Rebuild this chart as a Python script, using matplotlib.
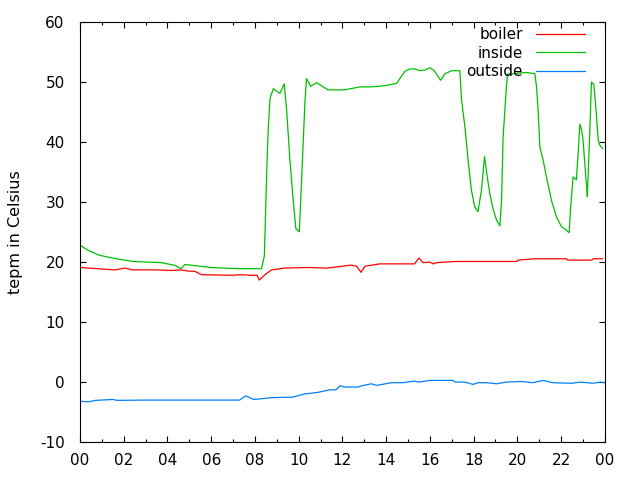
import matplotlib
matplotlib.use("Agg")
import matplotlib.pyplot as plt
from matplotlib.ticker import FixedLocator, MultipleLocator

# ---- data (hours of day, temperature in Celsius) ----
boiler_h = [0.0, 0.4, 1.6, 2.06, 2.4, 3.43, 4.2, 4.6, 4.95, 5.26, 5.56, 6.93, 7.4, 7.8,
            8.1, 8.2, 8.46, 8.76, 9.37, 10.4, 11.3, 11.96, 12.4, 12.65, 12.85, 13.03,
            13.7, 15.3, 15.5, 15.7, 16.0, 16.15, 16.3, 17.14, 19.96, 20.04, 20.8, 22.25,
            22.3, 23.4, 23.47, 23.9]
boiler_v = [19.1, 19.0, 18.7, 19.0, 18.7, 18.7, 18.6, 18.7, 18.5, 18.45, 17.9, 17.8, 17.9, 17.8,
            17.8, 17.0, 17.9, 18.7, 19.0, 19.1, 19.0, 19.3, 19.5, 19.3, 18.3, 19.3,
            19.7, 19.7, 20.67, 19.9, 20.0, 19.7, 19.9, 20.1, 20.1, 20.33, 20.55, 20.55,
            20.33, 20.33, 20.55, 20.55]

inside_h = [0.0, 0.38, 0.84, 1.3, 1.9, 2.44, 3.73, 4.34, 4.62, 4.8, 5.26, 6.0, 6.6, 7.24,
            8.3, 8.43, 8.46, 8.55, 8.62, 8.69, 8.84, 9.14, 9.34, 9.45, 9.6, 9.75, 9.87,
            10.03, 10.14, 10.29, 10.36, 10.55, 10.82, 11.35, 12.1, 12.8, 13.26, 13.7,
            14.1, 14.48, 14.63, 14.86, 15.1, 15.3, 15.54, 15.77, 16.0, 16.2, 16.49,
            16.69, 17.0, 17.37, 17.45, 17.6, 17.75, 17.9, 18.05, 18.2, 18.36, 18.5,
            18.58, 18.74, 18.9, 19.05, 19.2, 19.28, 19.35, 19.5, 19.55, 20.1, 20.4,
            20.8, 20.88, 20.95, 21.03, 21.18, 21.33, 21.56, 21.79, 22.02, 22.25, 22.37,
            22.43, 22.55, 22.7, 22.78, 22.86, 22.94, 23.0, 23.13, 23.18, 23.2, 23.3,
            23.39, 23.5, 23.6, 23.7, 23.77, 23.9]
inside_v = [22.8, 21.95, 21.2, 20.8, 20.4, 20.1, 19.9, 19.45, 18.9, 19.6, 19.4, 19.1, 19.0, 18.9,
            18.9, 21.0, 24.8, 36.4, 43.1, 47.3, 48.9, 48.1, 49.7, 45.3, 37.0, 30.3, 25.6,
            25.05, 34.2, 47.0, 50.6, 49.3, 49.9, 48.7, 48.7, 49.2, 49.2, 49.3,
            49.5, 49.8, 50.6, 51.8, 52.2, 52.2, 51.9, 52.0, 52.4, 51.9, 50.3,
            51.4, 51.9, 51.9, 47.0, 42.6, 37.0, 32.0, 29.2, 28.4, 32.0, 37.6,
            35.3, 31.4, 28.7, 27.0, 26.05, 30.3, 40.9, 49.2, 51.3, 51.5, 51.6,
            51.4, 49.2, 45.3, 39.2, 37.0, 34.2, 30.3, 27.55, 25.9, 25.3, 24.9,
            28.7, 34.2, 33.7, 38.1, 43.0, 42.0, 40.6, 34.2, 32.2, 30.9, 40.3,
            50.0, 49.6, 45.3, 40.3, 39.5, 38.9]

outside_h = [0.0, 0.4, 0.7, 1.5, 1.7, 3.0, 5.0, 7.3, 7.57, 7.95, 8.77, 9.75, 10.24, 10.9,
             11.4, 11.7, 11.89, 12.1, 12.7, 12.95, 13.33, 13.56, 14.25, 14.76, 15.3, 15.5,
             16.0, 17.07, 17.14, 17.6, 17.98, 18.2, 18.6, 19.05, 19.5, 20.2, 20.7, 21.2,
             21.6, 22.48, 22.9, 23.47, 23.8, 23.95]
outside_v = [-3.2, -3.3, -3.05, -2.9, -3.05, -3.0, -3.0, -3.0, -2.3, -2.9, -2.6, -2.5, -2.0, -1.7,
             -1.3, -1.3, -0.6, -0.83, -0.83, -0.56, -0.28, -0.56, -0.1, -0.1, 0.17, 0.0,
             0.28, 0.28, 0.0, 0.0, -0.39, -0.1, -0.1, -0.28, 0.0, 0.1, -0.1, 0.28,
             -0.1, -0.2, 0.0, -0.2, 0.0, -0.1]

xtick_pos = [0, 2, 4, 6, 8, 10, 12, 14, 16, 18, 20, 22, 24]
xtick_labels = ["00", "02", "04", "06", "08", "10", "12", "14", "16", "18", "20", "22", "00"]

plt.rcParams['font.family'] = ['DejaVu Sans']
plt.rcParams['axes.unicode_minus'] = False
FS = 11
fig = plt.figure(figsize=(6.4, 4.8), dpi=100)
ax = fig.add_axes([0.125, 0.079, 0.820, 0.875])

ax.plot(boiler_h, boiler_v, color="#ff0000", lw=0.9, label="boiler")
ax.plot(inside_h, inside_v, color="#00c000", lw=0.9, label="inside")
ax.plot(outside_h, outside_v, color="#0080ff", lw=0.9, label="outside")

ax.set_xlim(0, 24)
ax.set_ylim(-10, 60)
ax.xaxis.set_major_locator(FixedLocator(xtick_pos))
ax.set_xticklabels(xtick_labels)
ax.xaxis.set_minor_locator(MultipleLocator(1))
ax.yaxis.set_major_locator(MultipleLocator(10))

for s in ax.spines.values():
    s.set_linewidth(0.8)
ax.tick_params(axis='both', which='major', direction='in', length=4.5, width=0.8,
               top=True, right=True, labelsize=FS, colors='black')
ax.tick_params(axis='x', which='minor', direction='in', length=2.3, width=0.8,
               top=True, bottom=True)
ax.tick_params(axis='x', which='major', pad=8)
ax.tick_params(axis='y', which='major', pad=11)

ax.set_ylabel("tepm in Celsius", fontsize=11.5, va='center')
ax.yaxis.set_label_coords(-0.122, 0.5)

leg = ax.legend(loc='upper right', frameon=False, markerfirst=False, fontsize=FS,
                handlelength=3.2, handletextpad=0.85, labelspacing=0.24,
                borderpad=0.0, borderaxespad=0.0, bbox_to_anchor=(0.962, 0.988))

fig.savefig("out.png", dpi=100)
